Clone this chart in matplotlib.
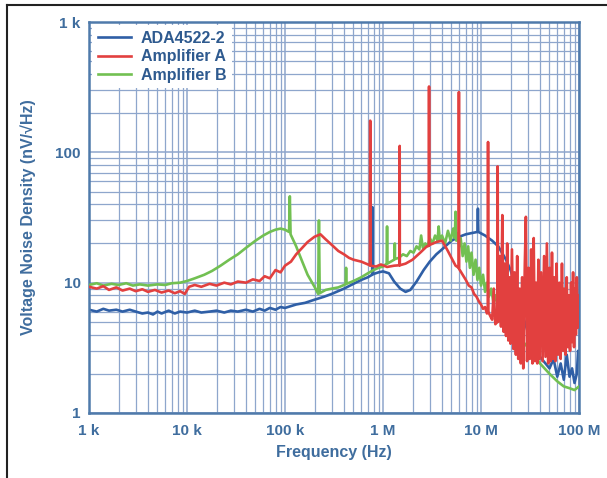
import matplotlib
matplotlib.use("Agg")
import matplotlib.pyplot as plt
from matplotlib.ticker import FixedLocator, NullFormatter, LogLocator
from matplotlib.lines import Line2D

# ---------------- data ----------------
x_ticks = [1e3, 1e4, 1e5, 1e6, 1e7, 1e8]
x_tick_labels = ["1 k", "10 k", "100 k", "1 M", "10 M", "100 M"]
y_ticks = [1, 10, 100, 1000]
y_tick_labels = ["1", "10", "100", "1 k"]
series_names = ["ADA4522-2", "Amplifier A", "Amplifier B"]

ada_f = [1000, 1200, 1400, 1600, 1900, 2200, 2600, 3000, 3500, 4000, 4500, 5000, 5500,
         6500, 7500, 8500, 10000, 12000, 14000, 17000, 20000, 24000, 28000, 33000, 40000,
         47000, 55000, 62000, 70000, 80000, 90000, 100000, 130000, 160000, 200000, 250000,
         300000, 400000, 500000, 600000, 700000, 775000, 780000, 785000, 900000, 1000000,
         1150000, 1300000, 1500000, 1700000, 1900000, 2200000, 2600000, 3000000, 3500000,
         4000000, 5000000, 6000000, 7000000, 8000000, 9200000, 9300000, 9400000, 11000000,
         13000000, 15000000, 18000000, 20000000, 23000000, 26000000, 30000000, 35000000,
         40000000, 50000000, 55000000, 60000000, 65000000, 70000000, 75000000, 80000000,
         85000000, 90000000, 95000000, 98000000, 100000000]
ada_v = [6.2, 6.0, 6.3, 6.1, 6.2, 6.0, 6.2, 6.0, 5.8, 5.9, 5.7, 6.0, 5.8,
         6.1, 5.8, 6.0, 5.9, 6.1, 5.9, 6.0, 6.1, 5.9, 6.1, 6.0, 6.2,
         6.0, 6.3, 6.1, 6.4, 6.2, 6.5, 6.4, 6.8, 7.0, 7.4, 7.8,
         8.2, 9.0, 9.8, 10.5, 11.0, 11.5, 38, 11.6, 12.0, 12.2,
         11.8, 10.2, 9.0, 8.5, 8.8, 10.2, 12.5, 14.5, 16.5,
         18, 21, 22.5, 23.5, 24, 24.5, 37, 24.5, 23,
         21, 19, 15, 12.5, 9, 6, 4.2, 3.3,
         2.7, 2.2, 2.6, 1.9, 2.4, 1.8, 2.8, 1.9,
         2.2, 1.7, 2.0, 3.0, 2.6]

ampa_f = [1000, 1200, 1400, 1600, 1900, 2200, 2600, 3000, 3500, 4000, 4700, 5500, 6500,
          7500, 8500, 9500, 10500, 12000, 14000, 17000, 20000, 24000, 28000, 33000, 40000,
          47000, 55000, 62000, 70000, 80000, 90000, 100000, 115000, 130000, 150000, 170000,
          200000, 230000, 260000, 300000, 350000, 400000, 450000, 500000, 600000, 700000,
          735000, 740000, 745000, 850000, 950000, 1100000, 1300000, 1475000, 1480000,
          1485000, 1700000, 2000000, 2400000, 2800000, 2940000, 2950000, 2960000, 3500000,
          4000000, 4500000, 5000000, 5500000, 5940000, 5950000, 5960000, 6500000, 7000000,
          7500000, 8000000, 8500000, 9000000, 9500000, 10000000, 10500000, 11000000,
          11500000, 11750000, 11800000, 11850000, 12500000, 13000000, 13500000, 14000000,
          14700000, 14800000, 14900000, 15500000, 16000000, 16500000, 17000000, 17500000,
          18000000, 18500000, 19000000, 19500000, 20000000, 20700000, 21400000, 22000000,
          22700000, 23400000, 24000000, 24800000, 25500000, 26300000, 27000000, 28000000,
          28700000, 29500000, 30500000, 31500000, 32500000, 33500000, 34500000, 35500000,
          36500000, 37500000, 38500000, 39500000, 41000000, 42500000, 44000000, 45500000,
          47000000, 48500000, 50000000, 51500000, 53000000, 54500000, 56000000, 57500000,
          59000000, 61000000, 63000000, 65000000, 67000000, 69000000, 71000000, 73000000,
          75000000, 77000000, 79000000, 81000000, 83000000, 85000000, 87000000, 89000000,
          91000000, 93000000, 95000000, 97000000, 100000000]
ampa_v = [9.3, 9.0, 9.4, 8.8, 9.2, 8.7, 9.0, 8.6, 8.9, 8.5, 8.8, 8.4, 8.7,
          8.3, 8.6, 8.2, 9.3, 9.6, 9.3, 9.8, 9.5, 10.0, 9.7, 10.2, 10.0,
          10.6, 10.3, 11.2, 10.8, 12.5, 12.0, 13.5, 14.5, 16.5, 18.5, 20.5,
          22.5, 23.5, 21.5, 19.5, 17.5, 16.5, 15.5, 15, 14.5, 13.8,
          13.6, 175, 13.5, 13.3, 13.8, 13.2, 13.5, 13.6, 112,
          13.6, 14.0, 15, 17, 19, 19.2, 320, 19.4, 20.5,
          21, 18, 15.5, 13.5, 13.0, 290, 12.8, 11.5, 10.5,
          9.5, 9.2, 8.2, 7.8, 7.2, 6.8, 6.3, 6.5,
          5.8, 6.0, 120, 6.0, 5.5, 5.2, 9.0, 4.8,
          5.0, 78, 5.0, 16, 4.6, 33, 4.2, 14,
          3.9, 20, 3.6, 11, 3.4, 18, 3.1, 12,
          2.8, 16, 2.6, 9, 2.4, 11, 2.2, 14,
          32, 2.5, 13, 2.6, 18, 2.4, 22, 2.5,
          10, 2.4, 15, 2.6, 12, 2.5, 16, 2.7,
          20, 2.4, 13, 2.5, 17, 2.6, 11, 2.5,
          14, 2.8, 10, 2.6, 14, 3.0, 9, 2.8,
          11, 3.2, 8, 3.0, 10, 3.5, 12, 3.2,
          9, 4.0, 11, 4.5, 8]

ampb_f = [1000, 1200, 1400, 1700, 2000, 2400, 2800, 3300, 4000, 5000, 6000, 7000, 8500,
          10000, 12000, 15000, 18000, 22000, 27000, 33000, 40000, 50000, 60000, 70000,
          80000, 90000, 100000, 110000, 112000, 114000, 130000, 150000, 170000, 200000,
          218000, 222000, 226000, 260000, 300000, 350000, 400000, 415000, 420000, 425000,
          500000, 600000, 700000, 800000, 900000, 1000000, 1090000, 1100000, 1110000,
          1200000, 1300000, 1315000, 1320000, 1325000, 1450000, 1600000, 1750000, 1900000,
          2050000, 2200000, 2350000, 2450000, 2550000, 2700000, 2850000, 3000000, 3200000,
          3400000, 3600000, 3700000, 3800000, 4000000, 4300000, 4600000, 4900000, 5200000,
          5400000, 5500000, 5600000, 5800000, 6000000, 6200000, 6500000, 6800000, 7100000,
          7400000, 7700000, 8000000, 8400000, 8800000, 9200000, 9600000, 10000000,
          10500000, 11000000, 11500000, 12000000, 12700000, 13400000, 14000000, 15000000,
          16000000, 17000000, 18500000, 20000000, 21500000, 23000000, 25000000, 27000000,
          30000000, 35000000, 40000000, 50000000, 60000000, 70000000, 80000000, 90000000,
          100000000]
ampb_v = [9.6, 9.9, 9.5, 9.8, 9.6, 9.9, 9.5, 9.7, 9.5, 9.7, 9.6, 9.9, 10.0,
          10.3, 10.8, 11.5, 12.3, 13.5, 15, 16.5, 18.5, 21, 23, 24.5,
          25.5, 26, 25.5, 24.5, 46, 23.5, 19, 14.5, 11.5, 9.3,
          8.2, 30, 8.3, 8.8, 9.0, 9.2, 9.6, 9.7, 13, 9.8,
          10.3, 11.0, 11.8, 12.5, 13.0, 13.3, 14.0, 27, 14.0,
          14.5, 15, 15.2, 20, 15.2, 15.5, 16.5, 16, 17.5,
          17, 19, 18, 23, 18.5, 20, 19, 22, 20,
          23, 21, 27, 21, 23, 20, 25, 21, 26,
          22, 35, 21, 24, 19, 22, 16, 20, 14.5,
          19, 13, 17, 11.5, 15, 10.5, 13, 9.5,
          11.5, 8.5, 10, 7.8, 9, 7, 8, 6.5,
          7, 5.8, 5.8, 5.0, 4.6, 4.2, 3.8, 3.5,
          3.2, 2.8, 2.4, 2.0, 1.75, 1.6, 1.55, 1.5,
          1.6]

# ---------------- style ----------------
W, H = 607, 478
fig = plt.figure(figsize=(W / 100, H / 100), dpi=100)
ax = fig.add_axes([89 / W, 1 - 413 / H, (579 - 89) / W, (413 - 22) / H])

text_col = "#3f6d9e"
grid_col = "#8ea6cc"
blue = "#2f5fa6"
red = "#e2403f"
green = "#72c052"
font = ["Liberation Sans", "DejaVu Sans"]

ax.set_xscale("log")
ax.set_yscale("log")
ax.set_xlim(1e3, 1e8)
ax.set_ylim(1, 1000)

ax.plot(ampb_f, ampb_v, color=green, lw=1.9, zorder=3)
ax.plot(ampa_f, ampa_v, color=red, lw=1.9, zorder=4)
ax.plot(ada_f, ada_v, color=blue, lw=1.9, zorder=2)

ax.xaxis.set_major_locator(FixedLocator(x_ticks))
ax.yaxis.set_major_locator(FixedLocator(y_ticks))
ax.set_xticklabels(x_tick_labels)
ax.set_yticklabels(y_tick_labels)
ax.xaxis.set_minor_locator(LogLocator(base=10, subs=range(2, 10)))
ax.yaxis.set_minor_locator(LogLocator(base=10, subs=range(2, 10)))
ax.xaxis.set_minor_formatter(NullFormatter())
ax.yaxis.set_minor_formatter(NullFormatter())

ax.grid(True, which="major", color=grid_col, lw=1.1, zorder=0)
ax.grid(True, which="minor", color=grid_col, lw=0.9, zorder=0)
ax.set_axisbelow(True)
ax.tick_params(which="both", length=0)
ax.tick_params(axis="x", pad=8)
ax.tick_params(axis="y", pad=6)
for lab in ax.get_xticklabels() + ax.get_yticklabels():
    lab.set_fontweight("bold")
    lab.set_color(text_col)
    lab.set_fontsize(11)
    lab.set_family(font)
for sp in ax.spines.values():
    sp.set_color("#4f7aab")
    sp.set_linewidth(1.8)

ax.set_xlabel("Frequency (Hz)", fontsize=11.5, fontweight="bold", color=text_col,
              family=font)
ax.set_ylabel("Voltage Noise Density (nV/√Hz)", fontsize=11.5, fontweight="bold",
              color=text_col, family=font)
ax.xaxis.set_label_coords(0.5, -(453 - 413) / 391)
ax.xaxis.label.set_va("center")
ax.yaxis.set_label_coords((28 - 89) / 490, 0.5)
ax.yaxis.label.set_va("center")

handles = [Line2D([], [], color=blue, lw=1.9), Line2D([], [], color=red, lw=1.9),
           Line2D([], [], color=green, lw=1.9)]
leg = ax.legend(handles, series_names, loc="upper left",
                bbox_to_anchor=(0.0, 1.0),
                frameon=True, facecolor="white", edgecolor="none", framealpha=1,
                handlelength=2.1, handletextpad=0.6, labelspacing=0.22,
                borderaxespad=0.2, borderpad=0.35,
                prop={"family": font, "weight": "bold", "size": 11.5})
for t in leg.get_texts():
    t.set_color("#2e5a8f")

# outer frame lines (top and left)
fig.add_artist(Line2D([7 / W, 1], [1 - 5 / H, 1 - 5 / H], color="#222222", lw=1.5))
fig.add_artist(Line2D([7 / W, 7 / W], [0, 1 - 5 / H], color="#222222", lw=1.5))

fig.savefig("out.png", dpi=100)
